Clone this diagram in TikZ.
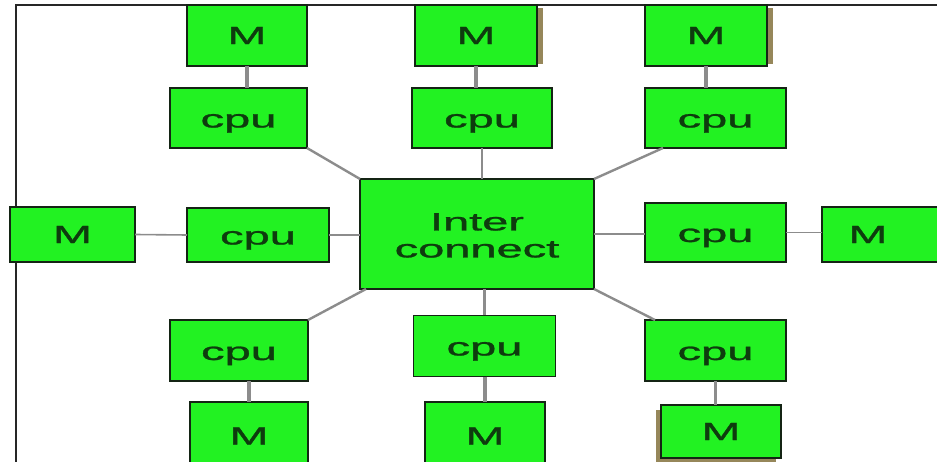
\documentclass[tikz,border=0pt]{standalone}
\usepackage{fontspec}
\setmainfont{Liberation Sans}
\newfontfamily\labelface[FakeBold=1]{Liberation Sans}
\usepackage{graphicx}
\definecolor{boxgreen}{RGB}{34,242,34}
\definecolor{labelgreen}{RGB}{14,60,14}
\definecolor{edgedark}{RGB}{20,36,20}
\definecolor{linkgray}{RGB}{140,140,140}
\definecolor{shadowtan}{RGB}{150,135,90}
% labels are set wide: a normal-height face stretched sideways
\newcommand{\wlabel}[1]{\scalebox{1.88}[1]{#1}}
\tikzset{
  unit/.style={draw=edgedark, line width=1.6pt, fill=boxgreen, inner sep=0pt,
    outer sep=0pt, text=labelgreen, align=center,
    font=\labelface\fontsize{25}{27}\selectfont},
  cpubox/.style={unit, text depth=0pt, text height=19pt},
  link/.style={draw=linkgray, line width=2.4pt},
  thinlink/.style={draw=linkgray, line width=1.6pt},
  memlink/.style={draw=linkgray, line width=3.6pt},
  frame/.style={draw=black!85, line width=1.6pt},
}
\begin{document}
\begin{tikzpicture}[x=1pt,y=-1pt]
\useasboundingbox (0,0) rectangle (937,462);
\clip (0,0) rectangle (937,462);

% outer frame: top and left edges
\draw[frame] (16,470) -- (16,5) -- (945,5);

% drop shadows behind some memory boxes
\fill[shadowtan] (530,8) rectangle (543,64);
\fill[shadowtan] (760,8) rectangle (773,64);
\fill[shadowtan] (656,410) rectangle (776,464);

% central interconnect
\node[unit, minimum width=234, minimum height=110] (ic) at (477,234)
  {\rule{0pt}{20pt}\wlabel{Inter}\\[0pt]\wlabel{connect}};

% upper row
\node[unit, minimum width=120, minimum height=61] (Mtl) at (247,35.5) {\wlabel{M}};
\node[unit, minimum width=122, minimum height=61] (Mtm) at (476,35.5) {\wlabel{M}};
\node[unit, minimum width=122, minimum height=61] (Mtr) at (706,35.5) {\wlabel{M}};
\node[cpubox, minimum width=137, minimum height=60] (Ctl) at (238.5,118) {\wlabel{cpu}};
\node[cpubox, minimum width=140, minimum height=60] (Ctm) at (482,118) {\wlabel{cpu}};
\node[cpubox, minimum width=141, minimum height=60] (Ctr) at (715.5,118) {\wlabel{cpu}};

% middle row
\node[unit, minimum width=125, minimum height=55] (Ml) at (72.5,234.5) {\wlabel{M}};
\node[cpubox, minimum width=142, minimum height=54] (Cl) at (258,235) {\wlabel{cpu}};
\node[cpubox, minimum width=141, minimum height=59] (Cr) at (715.5,232.5) {\wlabel{cpu}};
\node[unit, minimum width=130, minimum height=55, anchor=west] (Mr) at (822,234.5)
  {\hspace*{-38pt}\wlabel{M}};

% lower row
\node[cpubox, minimum width=138, minimum height=61] (Cbl) at (239,350.5) {\wlabel{cpu}};
\node[cpubox, minimum width=142, minimum height=61] (Cbm) at (484.5,346) {\wlabel{cpu}};
\node[cpubox, minimum width=141, minimum height=61] (Cbr) at (715.5,350.5) {\wlabel{cpu}};
\node[unit, minimum width=118, minimum height=68] (Mbl) at (249,436) {\wlabel{M}};
\node[unit, minimum width=120, minimum height=68] (Mbm) at (485,436) {\wlabel{M}};
\node[unit, minimum width=120, minimum height=53] (Mbr) at (721,431.5) {\wlabel{M}};

% memory-to-cpu links
\path[memlink] (Mtl.south) -- (Mtl.south |- Ctl.north);
\path[memlink] (Mtm.south) -- (Mtm.south |- Ctm.north);
\path[memlink] (Mtr.south) -- (Mtr.south |- Ctr.north);
\path[thinlink] (Ml.east) -- (Cl.west);
\path[thinlink] (Cr.east) -- (Cr.east -| Mr.west);
\path[memlink] (Cbl.south -| Mbl.north) -- (Mbl.north);
\path[memlink] (Cbm.south -| Mbm.north) -- (Mbm.north);
\path[memlink] (Cbr.south) -- (Cbr.south |- Mbr.north);

% cpu-to-interconnect links
\path[link] (Ctl.south east) -- (ic.north west);
\path[link] (Ctm.south) -- (Ctm.south |- ic.north);
\path[link] ([xshift=18pt]Ctr.south west) -- (ic.north east);
\path[link] (Cl.east) -- (Cl.east -| ic.west);
\path[link] (ic.east) -- (ic.east -| Cr.west);
\path[link] (Cbl.north east) -- ([xshift=6pt]ic.south west);
\path[link] (ic.south -| Cbm.north) -- (Cbm.north);
\path[link] (ic.south east) -- ([xshift=10pt]Cbr.north west);
\end{tikzpicture}
\end{document}
